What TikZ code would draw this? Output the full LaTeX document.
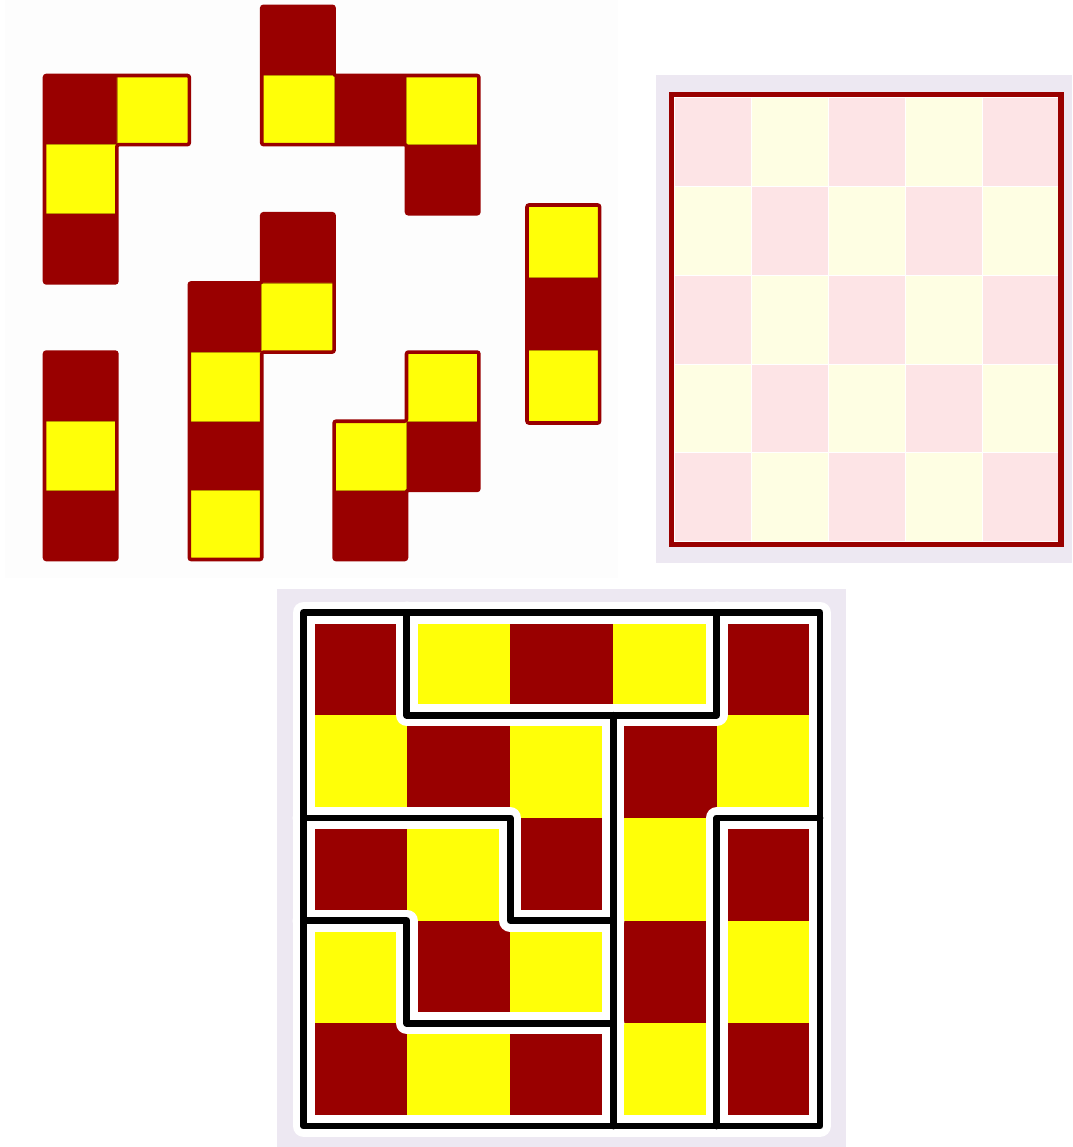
\documentclass[tikz,border=0pt]{standalone}
\usepackage{tikz}
\usepackage{xcolor}

\definecolor{piecered}{RGB}{153,0,0}
\definecolor{pieceyellow}{RGB}{255,255,8}
\definecolor{yellowedge}{RGB}{190,150,0}
\definecolor{palepink}{RGB}{253,228,230}
\definecolor{paleyellow}{RGB}{254,254,227}
\definecolor{lavender}{RGB}{237,232,242}
\definecolor{offwhite}{RGB}{253,253,253}

\begin{document}
\begin{tikzpicture}[
    x=0.5pt, y=-0.5pt,
    rcell/.style={fill=piecered},
    ycell/.style={fill=pieceyellow, draw=yellowedge, line width=0.3pt},
    outline/.style={draw=piecered, line width=1.8pt, rounded corners=1pt},
    halo/.style={draw=white, line width=11pt, line cap=round, line join=round},
    cut/.style={draw=black, line width=3.4pt, line cap=round, line join=round}
]
\useasboundingbox (0,0) rectangle (1072,1147);

% Backgrounds
\fill[offwhite] (5,0) rectangle (618,578);
\fill[lavender] (656,75) rectangle (1072,563);
\fill[lavender] (277,589) rectangle (846,1147);

% Loose pieces
\begin{scope}[shift={(44.5,6.3)}, x=36.2pt, y=-34.575pt]
  % Piece L
  \fill[rcell] (0,1) rectangle (1,2) (0,3) rectangle (1,4);
  \draw[ycell] (1,1) rectangle (2,2) (0,2) rectangle (1,3);
  \draw[outline] (0,1) -- (2,1) -- (2,2) -- (1,2) -- (1,4) -- (0,4) -- cycle;

  % Piece with five squares
  \fill[rcell] (3,0) rectangle (4,1) (4,1) rectangle (5,2) (5,2) rectangle (6,3);
  \draw[ycell] (3,1) rectangle (4,2) (5,1) rectangle (6,2);
  \draw[outline] (3,0) -- (4,0) -- (4,1) -- (6,1) -- (6,3) -- (5,3) -- (5,2) -- (3,2) -- cycle;

  % Piece with six squares
  \fill[rcell] (3,3) rectangle (4,4) (2,4) rectangle (3,5) (2,6) rectangle (3,7);
  \draw[ycell] (3,4) rectangle (4,5) (2,5) rectangle (3,6) (2,7) rectangle (3,8);
  \draw[outline] (3,3) -- (4,3) -- (4,5) -- (3,5) -- (3,8) -- (2,8) -- (2,4) -- (3,4) -- cycle;

  % Straight piece
  \fill[rcell] (0,5) rectangle (1,6) (0,7) rectangle (1,8);
  \draw[ycell] (0,6) rectangle (1,7);
  \draw[outline] (0,5) rectangle (1,8);

  % Piece S
  \fill[rcell] (5,6) rectangle (6,7) (4,7) rectangle (5,8);
  \draw[ycell] (5,5) rectangle (6,6) (4,6) rectangle (5,7);
  \draw[outline] (5,5) -- (6,5) -- (6,7) -- (5,7) -- (5,8) -- (4,8) -- (4,6) -- (5,6) -- cycle;
\end{scope}

% Straight piece, yellow ends
\begin{scope}[shift={(527,205)}, x=36.3pt, y=-36.33pt]
  \fill[rcell] (0,1) rectangle (1,2);
  \draw[ycell] (0,0) rectangle (1,1) (0,2) rectangle (1,3);
  \draw[outline] (0,0) rectangle (1,3);
\end{scope}

% Empty board
\begin{scope}[shift={(674,97.5)}, x=38.5pt, y=-44.4pt]
  \foreach \r in {0,...,4}
    \foreach \c in {0,...,4} {
      \pgfmathparse{int(mod(\r+\c,2))}
      \ifnum\pgfmathresult=0
        \fill[palepink, draw=white, line width=0.3pt] (\c,\r) rectangle ++(1,1);
      \else
        \fill[paleyellow, draw=white, line width=0.3pt] (\c,\r) rectangle ++(1,1);
      \fi
    }
\end{scope}
\draw[piecered, line width=2.75pt] (671.5,94.5) rectangle (1061,544.5);

% Tiled board
\begin{scope}[shift={(303.5,612.5)}, x=51.65pt, y=-51.35pt]
  \fill[pieceyellow] (0,0) rectangle (5,5);
  \foreach \r in {0,...,4}
    \foreach \c in {0,...,4} {
      \pgfmathparse{int(mod(\r+\c,2))}
      \ifnum\pgfmathresult=0
        \fill[rcell] (\c,\r) rectangle ++(1,1);
      \fi
    }
  \foreach \s in {halo, cut} {
    \draw[\s] (0,0) rectangle (5,5);
    \draw[\s] (1,0) -- (1,1) -- (4,1) -- (4,0);
    \draw[\s] (3,1) -- (3,5);
    \draw[\s] (5,2) -- (4,2) -- (4,5);
    \draw[\s] (0,2) -- (2,2) -- (2,3) -- (3,3);
    \draw[\s] (0,3) -- (1,3) -- (1,4) -- (3,4);
  }
\end{scope}

\end{tikzpicture}
\end{document}
